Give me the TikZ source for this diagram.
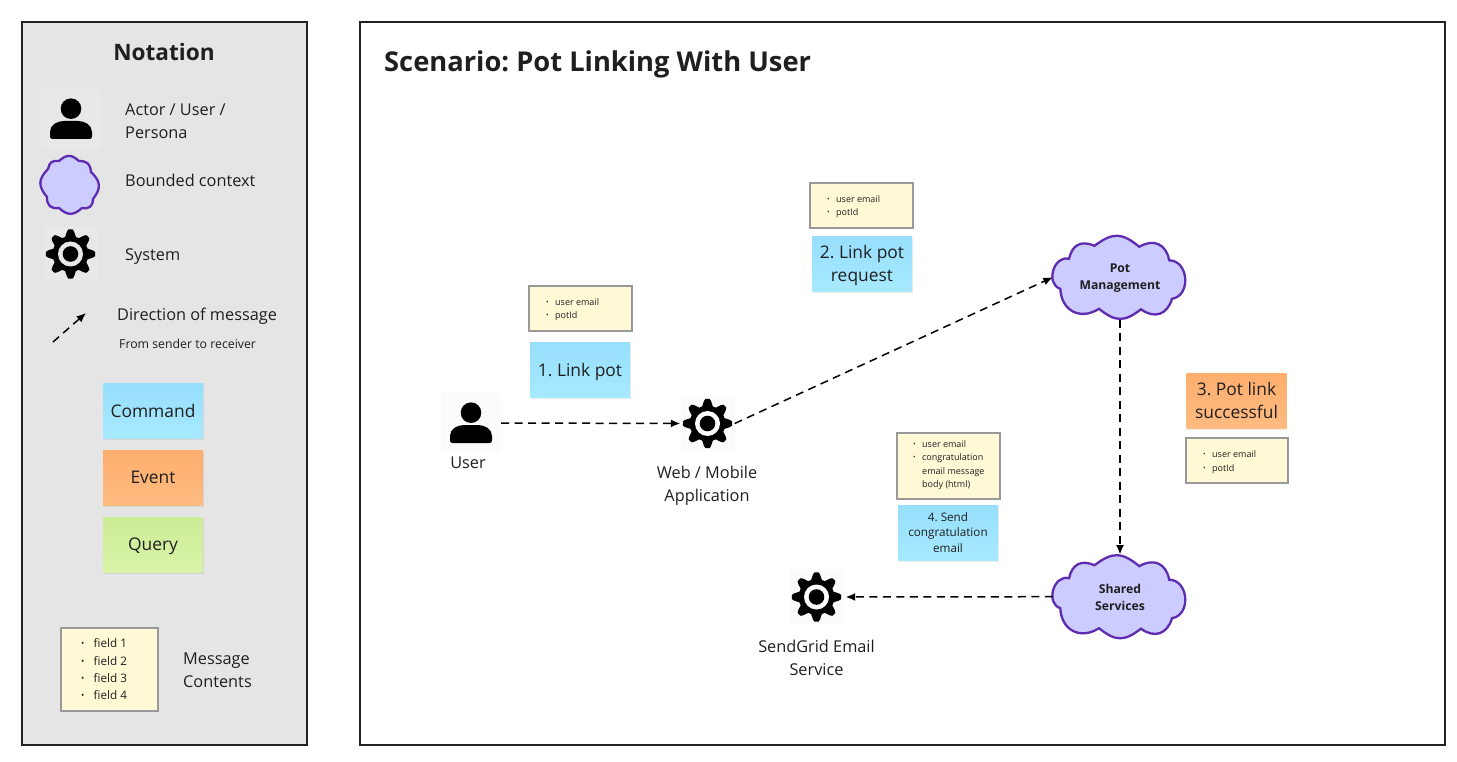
\documentclass[tikz,border=0pt]{standalone}
\usepackage{fontspec}
\setmainfont{Open Sans}
\usetikzlibrary{arrows.meta,shadows,calc}
\definecolor{ink}{HTML}{1F1F1F}
\definecolor{panel}{HTML}{E5E5E5}
\definecolor{frame}{HTML}{222222}
\definecolor{cloudfill}{HTML}{CCCCFF}
\definecolor{cloudline}{HTML}{5E2CB0}
\definecolor{msgfill}{HTML}{FFF9D6}
\definecolor{msgline}{HTML}{999999}
\definecolor{iconpanel}{HTML}{E8E8E8}
\definecolor{iconwhite}{HTML}{FBFBFB}
\definecolor{cmdtop}{HTML}{97DFFD}
\definecolor{cmdbot}{HTML}{A7E9FF}
\definecolor{evttop}{HTML}{FDAE6E}
\definecolor{evtbot}{HTML}{FFBB80}
\definecolor{qrytop}{HTML}{CDEC96}
\definecolor{qrybot}{HTML}{D8F3A8}
\newcommand{\fl}[1]{\makebox[9pt][l]{\raisebox{0.8pt}{\scalebox{0.75}{\textbullet}}}#1}
\newcommand{\fn}[1]{\makebox[9pt][l]{}#1}
\newcommand{\fll}[1]{\makebox[12.5pt][l]{\raisebox{1pt}{\scalebox{0.75}{\textbullet}}}#1}
\tikzset{
  x=1pt,y=-1pt,
  panelbox/.style={draw=frame,line width=2.4pt,fill=#1},
  txt/.style={text=ink,inner sep=0pt,anchor=west,font=\fontsize{16.3}{23}\selectfont,align=left},
  ctxt/.style={text=ink,inner sep=0pt,font=\fontsize{16.3}{23}\selectfont,align=center},
  sticky/.style n args={2}{inner sep=0pt,minimum width=100pt,minimum height=55pt,text=ink,align=center,
     top color=#1,bottom color=#2,draw=none,
     drop shadow={shadow xshift=0.6pt,shadow yshift=-1.6pt,fill=black,opacity=0.07}},
  cmdstk/.style={sticky={cmdtop}{cmdbot}},
  evtstk/.style={sticky={evttop}{evtbot}},
  qrystk/.style={sticky={qrytop}{qrybot}},
  stkfont/.style={font=\fontsize{17.4}{23}\selectfont},
  msgbox/.style={draw=msgline,line width=1.3pt,fill=msgfill,inner sep=0pt},
  msgtxt/.style={text=ink,inner sep=0pt,anchor=north west,align=left,font=\fontsize{9}{13.6}\selectfont},
  iconbg/.style={fill=#1,inner sep=0pt,draw=none},
  flow/.style={draw=black,line width=1.5pt,dash pattern=on 8pt off 5.5pt,-{Latex[length=9.5pt,width=8pt]}},
  cloudbox/.style={inner sep=0pt,minimum width=134pt,minimum height=84pt,text=ink,align=center,font=\bfseries\fontsize{12.2}{17}\selectfont},
  lobe/.style={bend left=#1,looseness=1.3},
  cloudpath/.style={draw=cloudline,line width=2.3pt,fill=cloudfill},
  pics/person/.style={code={
    \fill[black] (0,-10.3) circle (10.3pt);
    \fill[black] (-21,17.5) -- (-21,13) .. controls (-21,6) and (-14,2) .. (-7,2) -- (7,2) .. controls (14,2) and (21,6) .. (21,13)
       -- (21,17.5) .. controls (21,19) and (20,20) .. (18.5,20) -- (-18.5,20) .. controls (-20,20) and (-21,19) .. (-21,17.5) -- cycle;
  }},
  pics/gear/.style={code={
    \fill[black] plot[smooth,domain=0:360,samples=145,variable=\t]
      ({(21.2+3.4*max(-1,min(1,1.3*cos(8*\t))))*cos(\t)},{(21.2+3.4*max(-1,min(1,1.3*cos(8*\t))))*sin(\t)}) -- cycle;
    \fill[#1] (0,0) circle (12.5pt);
    \fill[black] (0,0) circle (7.8pt);
  }},
  pics/bigcloud/.style={code={
    \path[cloudpath] (-59.7,11.5)
      to[lobe=88] (-51,-18.5)
      to[lobe=50] (-25.5,-31.5)
      to[lobe=38] (19.3,-30.5)
      to[lobe=55] (49.2,-17)
      to[lobe=85] (52,21.5)
      to[lobe=55] (21,32)
      to[lobe=38] (-21,31.5)
      to[lobe=60] cycle;
  }},
  pics/smallcloud/.style={code={
    \path[cloudpath] (-22,-15)
      to[lobe=42] (-11,-23)
      to[lobe=42] (9,-23)
      to[lobe=42] (21,-12)
      to[lobe=42] (23,15)
      to[lobe=50] (12,24)
      to[lobe=42] (-11,24)
      to[lobe=50] (-23,13)
      to[lobe=42] cycle;
  }},
}
\begin{document}
\frenchspacing
\begin{tikzpicture}
\useasboundingbox (0,0) rectangle (1457,762);
\fill[white] (0,0) rectangle (1457,762);
% panels
\node[panelbox=panel,inner sep=0pt,minimum width=285pt,minimum height=723pt] (notation) at (164.5,383.5) {};
\node[panelbox=white,inner sep=0pt,minimum width=1085pt,minimum height=723pt] (scenario) at (902.5,383.5) {};
\node[text=ink,inner sep=0pt,font=\bfseries\fontsize{22.6}{25}\selectfont] (ntitle) at (164,52) {Notation};
\node[text=ink,inner sep=0pt,anchor=west,font=\bfseries\fontsize{27.3}{30}\selectfont] (stitle) at (384,64.5) {Scenario: Pot Linking With User};
% legend
\node[iconbg=iconpanel,minimum width=60pt,minimum height=60pt] (lperson) at (71,119) {};
\pic at (lperson) {person};
\node[txt] (lperson-t) at (125,121.5) {Actor / User /\\Persona};
\node[inner sep=0pt,minimum size=60pt] (lcloud) at (70,184) {};
\pic at (lcloud) {smallcloud};
\node[txt] (lcloud-t) at (125,180) {Bounded context};
\node[iconbg=iconpanel,minimum width=54pt,minimum height=54pt] (lgear) at (70.5,254) {};
\pic at (lgear) {gear=iconpanel};
\node[txt] (lgear-t) at (125,257) {System};
\coordinate (dirA) at (53,342);
\coordinate (dirB) at (86,313);
\draw[flow] (dirA) -- (dirB);
\node[txt] (ldir-t) at (117,316.5) {Direction of message};
\node[txt,font=\fontsize{12.3}{14}\selectfont] (ldir-s) at (119,343.5) {From sender to receiver};
\node[cmdstk,stkfont] (lcmd) at (153,410.5) {Command};
\node[evtstk,stkfont] (levt) at (153,477.5) {Event};
\node[qrystk,stkfont,text depth=0pt] (lqry) at (153,544.5) {Query};
\node[msgbox,minimum width=97pt,minimum height=83pt] (lmsg) at (109.5,669.5) {};
\node[msgtxt,font=\fontsize{11.7}{17.4}\selectfont] (lmsg-t) at (81,638.5) {\fll{field 1}\\\fll{field 2}\\\fll{field 3}\\\fll{field 4}};
\node[txt] (lmsg-c) at (183,670) {Message\\Contents};
% actors and systems
\node[iconbg=iconwhite,minimum width=60pt,minimum height=60pt] (user) at (471,423) {};
\pic at (user) {person};
\node[ctxt] (user-t) at (468,463) {User};
\node[iconbg=iconwhite,minimum width=54pt,minimum height=54pt] (web) at (707.5,423.5) {};
\pic at (web) {gear=white};
\node[ctxt] (web-t) at (707,486) {Web / Mobile\\Application};
\node[iconbg=iconwhite,minimum width=54pt,minimum height=54pt] (send) at (816.5,597) {};
\pic at (send) {gear=white};
\node[ctxt] (send-t) at (816.5,657.5) {SendGrid Email\\Service};
\node[cloudbox] (pot) at (1120,277.3) {};
\pic at (pot) {bigcloud};
\node[cloudbox] (pot-t) at (1120,278.5) {Pot\\Management};
\node[cloudbox] (shared) at (1120,596.7) {};
\pic at (shared) {bigcloud};
\node[cloudbox] (shared-t) at (1120,597.7) {Shared\\Services};
% connectors
\draw[flow] (user.east) -- (web.west);
\draw[flow] (web.east) -- (pot.west);
\draw[flow] (pot.south) -- (shared.north);
\draw[flow] (shared.west) -- ([xshift=2pt]send.east);
% stickies
\node[msgbox,minimum width=103pt,minimum height=45pt] (m1) at (580.5,308.5) {};
\node[msgtxt] (m1-t) at (546,298) {\fl{user email}\\\fl{potId}};
\node[cmdstk,stkfont,text depth=0pt] (s1) at (580,370) {1. Link pot};
\node[msgbox,minimum width=103pt,minimum height=45pt] (m2) at (861.5,205.5) {};
\node[msgtxt] (m2-t) at (827,195) {\fl{user email}\\\fl{potId}};
\node[cmdstk,minimum height=54pt] (s2) at (862,264) {};
\node[stkfont,text=ink,align=center,inner sep=0pt] (s2-t) at (862,265.5) {2. Link pot\\request};
\node[evtstk,stkfont] (s3) at (1236.5,400.5) {3. Pot link\\successful};
\node[msgbox,minimum width=102pt,minimum height=45pt] (m3) at (1237,460.5) {};
\node[msgtxt] (m3-t) at (1203,450.5) {\fl{user email}\\\fl{potId}};
\node[msgbox,minimum width=103pt,minimum height=66pt] (m4) at (948.5,466) {};
\node[msgtxt] (m4-t) at (913,440) {\fl{user email}\\\fl{congratulation}\\\fn{email message}\\\fn{body (html)}};
\node[cmdstk,font=\fontsize{11.7}{15.4}\selectfont] (s4) at (948,532.5) {4. Send\\congratulation\\email};
\end{tikzpicture}
\end{document}
